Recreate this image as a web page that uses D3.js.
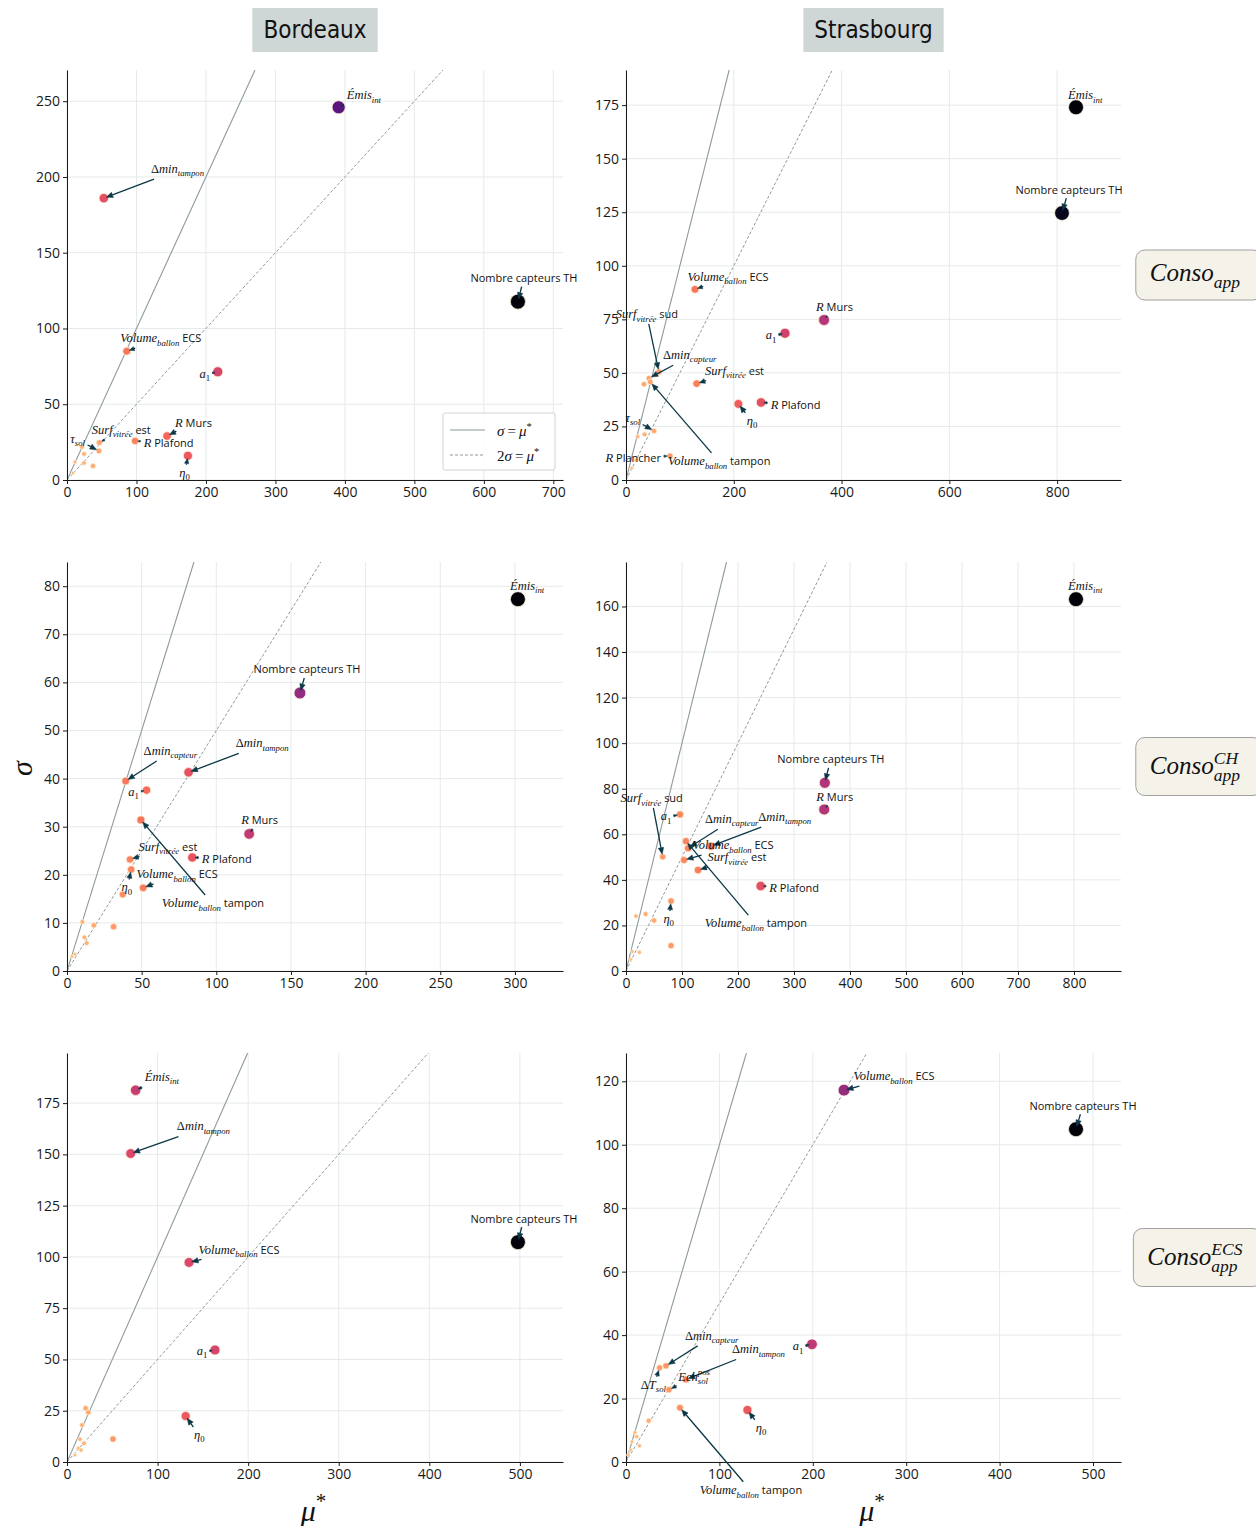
<!DOCTYPE html>
<html><head><meta charset="utf-8">
<script src="https://cdn.jsdelivr.net/npm/d3@7"></script>
<style>body{margin:0;background:#fff} text{white-space:pre}</style>
</head><body><svg id="c" width="1256" height="1526"></svg>
<script>
// ---------------- DATA ----------------
const cities = ["Bordeaux", "Strasbourg"];
const targets = ["$Conso_{app}$", "$Conso_{app}^{CH}$", "$Conso_{app}^{ECS}$"];

const LBL = {
  emis: "$Émis_{int}$", dtamp: "$\\Delta min_{tampon}$", dcapt: "$\\Delta min_{capteur}$",
  ncapt: "Nombre capteurs TH", vecs: "$Volume_{ballon}$ ECS", vtamp: "$Volume_{ballon}$ tampon",
  a1: "$a_1$", rmurs: "$R$ Murs", rplaf: "$R$ Plafond", rplanch: "$R$ Plancher",
  eta0: "$\\eta_0$", sest: "$Surf_{vitrée}$ est", ssud: "$Surf_{vitrée}$ sud",
  tau: "$\\tau_{sol}$", dT: "$\\Delta T_{sol}$", ech: "$Ech_{sol}^{pos}$"
};

// Bordeaux - Conso_app
const p1Names = ["emis","dtamp","ncapt","vecs","a1","rmurs","rplaf","eta0","sest","tau","","","","","",""];
const p1Mu    = [391, 53, 649, 86, 217, 144, 98, 174, 46.5, 46, 21.6, 24.5, 24.5, 37.4, 11.5, 8.6];
const p1Sigma = [246, 186, 117.7, 85, 71.4, 29, 25.8, 16, 24.7, 19.2, 21.8, 17.2, 11.2, 9.3, 11.9, 4.6];
const p1XTicks = [0,100,200,300,400,500,600,700];
const p1YTicks = [0,50,100,150,200,250];

// Strasbourg - Conso_app
const p2Names = ["emis","ncapt","vecs","rmurs","a1","ssud","dcapt","vtamp","sest","eta0","rplaf","tau","rplanch","","","","",""];
const p2Mu    = [835, 809, 128, 367.5, 295, 61, 42.7, 45, 131, 208.5, 250.6, 52, 81.7, 33.4, 34.6, 21.7, 18, 10.5];
const p2Sigma = [174, 124.6, 89, 74.7, 68.5, 50.5, 47.5, 45.8, 45, 35.5, 36.2, 22.9, 11.2, 44.7, 21.3, 20.2, 9.3, 5.5];
const p2XTicks = [0,200,400,600,800];
const p2YTicks = [0,25,50,75,100,125,150,175];

// Bordeaux - Conso_app^CH
const p3Names = ["emis","ncapt","dcapt","dtamp","a1","vtamp","rmurs","rplaf","sest","vecs","eta0","","","","","","","",""];
const p3Mu    = [302, 156, 39.3, 81.4, 53.3, 49.5, 122, 83.9, 42.2, 51, 43, 37.3, 31.2, 10.3, 18, 11.6, 13.2, 5.4, 3.3];
const p3Sigma = [77.3, 57.8, 39.5, 41.3, 37.6, 31.4, 28.5, 23.6, 23.2, 17.3, 21.1, 15.9, 9.2, 10.2, 9.5, 7, 5.8, 3.5, 3];
const p3XTicks = [0,50,100,150,200,250,300];
const p3YTicks = [0,10,20,30,40,50,60,70,80];

// Strasbourg - Conso_app^CH
const p4Names = ["emis","ncapt","rmurs","a1","ssud","vtamp","dcapt","dtamp","vecs","sest","rplaf","eta0","","","","","","",""];
const p4Mu    = [803.6, 355, 354, 96.4, 65.5, 107, 110.7, 151.8, 103.6, 128.6, 240.5, 80.4, 80.4, 17.9, 35, 50, 23.8, 11.3, 8.3];
const p4Sigma = [163.2, 82.6, 70.9, 68.7, 50.1, 57, 53.9, 54.8, 48.7, 44.3, 37.3, 30.7, 11.1, 24.1, 25, 22.2, 8.2, 8.5, 5.1];
const p4XTicks = [0,100,200,300,400,500,600,700,800];
const p4YTicks = [0,20,40,60,80,100,120,140,160];

// Bordeaux - Conso_app^ECS
const p5Names = ["emis","dtamp","vecs","ncapt","a1","eta0","","","","","","","","",""];
const p5Mu    = [75.8, 70.3, 134.7, 497.8, 163.4, 131, 20.6, 23.5, 16.6, 50.8, 14.3, 18.8, 12.5, 15.5, 8.8];
const p5Sigma = [181.3, 150.4, 97.3, 107.2, 54.6, 22.4, 26.2, 24.2, 18, 11.2, 11.1, 9.1, 6.7, 5.8, 3.4];
const p5XTicks = [0,100,200,300,400,500];
const p5YTicks = [0,25,50,75,100,125,150,175];

// Strasbourg - Conso_app^ECS
const p6Names = ["vecs","ncapt","a1","eta0","vtamp","dT","dcapt","dtamp","ech","","","","","","",""];
const p6Mu    = [233.4, 481.8, 199.1, 130, 57.8, 36, 42.8, 64, 46, 24.3, 9.6, 11.4, 14.3, 6.4, 5, 2.5];
const p6Sigma = [117.2, 104.9, 37.1, 16.4, 17.1, 29.7, 30.3, 26, 22.8, 13, 9.3, 8, 5.1, 6.4, 3.8, 2.2];
const p6XTicks = [0,100,200,300,400,500];
const p6YTicks = [0,20,40,60,80,100,120];

// label text offsets (pixels, text centre relative to point)
const p1Off = [[25,-11],[74,-28],[6,-24],[34,-12],[-13,3],[26,-14],[33,2],[-3,18],[22,-12],[-21,-11]];
const p2Off = [[9,-11],[7,-24],[33,-12],[10,-13],[-14,3],[-12,-57],[41,-22],[69,80],[38,-12],[14,18],[34,2],[-21,-12],[-37,1]];
const p3Off = [[9,-12],[7,-24],[45,-29],[74,-28],[-13,3],[72,84],[10,-14],[34,1],[38,-12],[34,-13],[-4,19]];
const p4Off = [[9,-12],[6,-24],[10,-13],[-14,3],[-11,-58],[70,83],[44,-28],[74,-28],[49,-14],[39,-12],[33,1],[-2,19]];
const p5Off = [[26,-12],[73,-26],[50,-12],[6,-24],[-13,2],[14,20]];
const p6Off = [[50,-13],[7,-24],[-14,3],[14,19],[71,83],[-6,18],[46,-29],[73,-29],[25,-13]];

// ---------------- LAYOUT ----------------
const COLX = [[67,563],[626,1121]];
const ROWY = [[70,480],[562,971],[1053,1462]];
const SERIF = "'Liberation Serif','Times New Roman',serif";
const SANS = "'Open Sans','Noto Sans',sans-serif";
const ARROW = "#0b3746";
const LINEC = "#8e9a9a";
const GRIDC = "#e7eaea";

const panels = [
  {c:0,r:0,n:p1Names,mu:p1Mu,s:p1Sigma,off:p1Off,xt:p1XTicks,yt:p1YTicks,legend:true},
  {c:1,r:0,n:p2Names,mu:p2Mu,s:p2Sigma,off:p2Off,xt:p2XTicks,yt:p2YTicks},
  {c:0,r:1,n:p3Names,mu:p3Mu,s:p3Sigma,off:p3Off,xt:p3XTicks,yt:p3YTicks},
  {c:1,r:1,n:p4Names,mu:p4Mu,s:p4Sigma,off:p4Off,xt:p4XTicks,yt:p4YTicks},
  {c:0,r:2,n:p5Names,mu:p5Mu,s:p5Sigma,off:p5Off,xt:p5XTicks,yt:p5YTicks},
  {c:1,r:2,n:p6Names,mu:p6Mu,s:p6Sigma,off:p6Off,xt:p6XTicks,yt:p6YTicks}
];

const svg = d3.select("#c");
svg.append("rect").attr("width",1256).attr("height",1526).attr("fill","#fff");

// ---------- rich (mathtext-like) text ----------
const CMDS = {Delta:["Δ",false], eta:["η",true], tau:["τ",true], sigma:["σ",true], mu:["μ",true]};
function tokenize(s){
  const out=[]; let i=0;
  while(i<s.length){
    const c=s[i];
    if(c===' '){i++;continue;}
    if(c==='_'||c==='^'){
      const level=c==='_'?'sub':'sup'; i++;
      let g;
      if(s[i]==='{'){const j=s.indexOf('}',i); g=s.slice(i+1,j); i=j+1;}
      else {g=s[i]; i++;}
      tokenize(g).forEach(tk=>out.push({t:tk.t,it:tk.it,level}));
      continue;
    }
    if(c==='\\'){let j=i+1; while(j<s.length&&/[A-Za-z]/.test(s[j]))j++; const m=CMDS[s.slice(i+1,j)]; out.push({t:m[0],it:m[1],level:'base'}); i=j; continue;}
    if(c==='='){out.push({t:'\u2009=\u2009',it:false,level:'base'}); i++; continue;}
    out.push({t:c,it:/[A-Za-zÀ-ÿ]/.test(c),level:'base'}); i++;
  }
  return out;
}
function rich(parent, str, o){
  const t=parent.append("text").attr("fill",o.color||"#111");
  let cur=0, prev=null;
  const put=(txt,fam,sz,it,shift,dx)=>{
    const ts=t.append("tspan").attr("font-family",fam).attr("font-size",sz)
      .attr("font-style",it?"italic":"normal").text(txt);
    if(shift!==cur){ts.attr("dy",shift-cur);cur=shift;}
    if(dx) ts.attr("dx",dx);
    return ts;
  };
  str.split("$").forEach((seg,k)=>{
    if(!seg) return;
    if(k%2===0){ put(seg,SANS,o.sans,false,0); prev=null; return; }
    const groups=[];
    tokenize(seg).forEach(tk=>{const g=groups[groups.length-1]; if(g&&g.it===tk.it&&g.level===tk.level) g.t+=tk.t; else groups.push({...tk});});
    groups.forEach(g=>{
      const m=o.math;
      const sz=g.level==='base'?m:m*0.7;
      const shift=g.level==='sub'?m*0.28:g.level==='sup'?-m*0.42:0;
      let dx=0;
      if(g.level==='sup'&&prev&&prev.level==='sub') dx=-prev.width;
      const node=put(g.t,SERIF,sz,g.it,shift,dx);
      let w=node.node().getComputedTextLength();
      if(g.level==='sub'&&prev&&prev.level==='sub') w+=prev.width;
      prev={level:g.level,width:w};
    });
  });
  return t;
}
function placeCentered(t, cx, cy){
  const b=t.node().getBBox();
  const tx=cx-(b.x+b.width/2), ty=cy-(b.y+b.height/2);
  t.attr("transform",`translate(${tx},${ty})`);
  return {x:b.x+tx,y:b.y+ty,w:b.width,h:b.height};
}
// arrow from the (tight) text box edge to near the point centre
function drawArrow(g, box, px, py, halfH){
  const cx=box.x+box.w/2, cy=box.y+box.h/2;
  const dx=px-cx, dy=py-cy, L=Math.hypot(dx,dy); if(L<1) return;
  const ux=dx/L, uy=dy/L;
  const hw=box.w/2+2, hh=halfH+2;
  const s=Math.min(ux?hw/Math.abs(ux):1e9, uy?hh/Math.abs(uy):1e9);
  const endD=L-2.7;
  if(endD-s<2) return;
  const sx=cx+ux*s, sy=cy+uy*s, ex=cx+ux*endD, ey=cy+uy*endD;
  const hl=Math.min(6.5,(endD-s)*0.8), hw2=hl*0.42;
  const bx=ex-ux*hl, by=ey-uy*hl;
  g.append("line").attr("x1",sx).attr("y1",sy).attr("x2",bx).attr("y2",by)
    .attr("stroke",ARROW).attr("stroke-width",1.3);
  g.append("path").attr("d",`M${ex},${ey}L${bx-uy*hw2},${by+ux*hw2}L${bx+uy*hw2},${by-ux*hw2}Z`)
    .attr("fill",ARROW).attr("stroke",ARROW).attr("stroke-width",0.5);
}

// ---------- panels ----------
panels.forEach((p,pi)=>{
  const [x0,x1]=COLX[p.c], [y0,y1]=ROWY[p.r];
  const x=d3.scaleLinear().domain([0,1.1*d3.max(p.mu)]).range([x0,x1]);
  const y=d3.scaleLinear().domain([0,1.1*d3.max(p.s)]).range([y1,y0]);
  const g=svg.append("g");
  const clipId="clip"+pi;
  g.append("clipPath").attr("id",clipId).append("rect").attr("x",x0).attr("y",y0).attr("width",x1-x0).attr("height",y1-y0);

  // grid
  g.append("g").selectAll("line").data(p.xt).join("line")
    .attr("x1",d=>x(d)).attr("x2",d=>x(d)).attr("y1",y0).attr("y2",y1).attr("stroke",GRIDC).attr("stroke-width",1);
  g.append("g").selectAll("line").data(p.yt).join("line")
    .attr("y1",d=>y(d)).attr("y2",d=>y(d)).attr("x1",x0).attr("x2",x1).attr("stroke",GRIDC).attr("stroke-width",1);

  // reference lines sigma = mu, 2 sigma = mu
  const ymax=y.domain()[1];
  const lg=g.append("g").attr("clip-path",`url(#${clipId})`);
  lg.append("line").attr("x1",x(0)).attr("y1",y(0)).attr("x2",x(ymax)).attr("y2",y(ymax))
    .attr("stroke",LINEC).attr("stroke-width",1.1);
  lg.append("line").attr("x1",x(0)).attr("y1",y(0)).attr("x2",x(2*ymax)).attr("y2",y(ymax))
    .attr("stroke",LINEC).attr("stroke-width",1).attr("stroke-dasharray","3,2");

  // axes
  const gx=g.append("g").attr("transform",`translate(0,${y1})`)
    .call(d3.axisBottom(x).tickValues(p.xt).tickSize(4).tickPadding(3).tickSizeOuter(0).tickFormat(d3.format("d")));
  const gy=g.append("g").attr("transform",`translate(${x0},0)`)
    .call(d3.axisLeft(y).tickValues(p.yt).tickSize(4).tickPadding(3).tickSizeOuter(0).tickFormat(d3.format("d")));
  [gx,gy].forEach(a=>{
    a.attr("color","#1a1a1a");
    a.selectAll("text").attr("font-family",SANS).attr("font-size",14).attr("fill","#1a1a1a");
  });

  // points: colour and size follow the distance sqrt(mu*^2 + sigma^2)
  const pts=p.mu.map((m,i)=>({name:p.n[i],mu:m,s:p.s[i],d:Math.hypot(m,p.s[i]),i}));
  const dmax=d3.max(pts,d=>d.d);
  pts.forEach(d=>{
    const u=d.d/dmax;
    d.t=Math.pow(u,0.75);
    d.r=Math.max(1.8,7.5*Math.sqrt(d.t));
    d.col=d3.interpolateMagma(0.02+0.85*(1-u));
  });
  const sorted=pts.slice().sort((a,b)=>a.d-b.d);
  g.append("g").selectAll("circle").data(sorted).join("circle")
    .attr("cx",d=>x(d.mu)).attr("cy",d=>y(d.s)).attr("r",d=>d.r)
    .attr("fill",d=>d.col).attr("stroke","#fbf0d6").attr("stroke-width",0.8);

  // annotations
  const ag=g.append("g");
  pts.forEach(d=>{
    if(!d.name) return;
    const o=p.off[d.i]; const px=x(d.mu), py=y(d.s);
    const t=rich(ag,LBL[d.name],{sans:11,math:12.5});
    const box=placeCentered(t,px+o[0],py+o[1]);
    drawArrow(ag,box,px,py,Math.min(box.h/2,7));
  });

  // legend
  if(p.legend){
    const lw=112, lh=57, lx=x1-8-lw, ly=y1-10-lh;
    const L=g.append("g");
    L.append("rect").attr("x",lx).attr("y",ly).attr("width",lw).attr("height",lh)
      .attr("fill","#fff").attr("fill-opacity",0.85).attr("stroke","#d0d4d4").attr("rx",2);
    L.append("line").attr("x1",lx+7).attr("x2",lx+42).attr("y1",ly+17).attr("y2",ly+17).attr("stroke",LINEC).attr("stroke-width",1.1);
    L.append("line").attr("x1",lx+7).attr("x2",lx+42).attr("y1",ly+42).attr("y2",ly+42).attr("stroke",LINEC).attr("stroke-dasharray","3,2");
    const t1=rich(L,"$\\sigma = \\mu^*$",{sans:14,math:15});
    const b1=t1.node().getBBox(); t1.attr("transform",`translate(${lx+54-b1.x},${ly+17-(b1.y+b1.height/2)})`);
    const t2=rich(L,"$2\\sigma = \\mu^*$",{sans:14,math:15});
    const b2=t2.node().getBBox(); t2.attr("transform",`translate(${lx+54-b2.x},${ly+42-(b2.y+b2.height/2)})`);
  }
});

// ---------- headers ----------
cities.forEach((c,i)=>{
  const cx=(COLX[i][0]+COLX[i][1])/2;
  const g=svg.append("g");
  const t=g.append("text").attr("font-family","'DejaVu Sans Condensed','DejaVu Sans',sans-serif")
    .attr("font-stretch","condensed").attr("font-size",24).attr("fill","#111").attr("text-anchor","middle")
    .attr("x",cx).attr("y",38).text(c);
  const b=t.node().getBBox();
  g.insert("rect","text").attr("x",cx-b.width/2-11).attr("y",8).attr("width",b.width+22).attr("height",44).attr("fill","#cfd6d6");
});

// ---------- row labels ----------
targets.forEach((s,i)=>{
  const cy=(ROWY[i][0]+ROWY[i][1])/2;
  const g=svg.append("g");
  const t=rich(g,s,{sans:24,math:25});
  const box=placeCentered(t,1195,cy);
  const bh=i===0?50:58;
  const bx=box.x-14;
  g.insert("rect","text").attr("x",bx).attr("y",cy-bh/2).attr("width",1262-bx).attr("height",bh)
    .attr("rx",9).attr("fill","#f5f2ea").attr("stroke","#a0a0a0").attr("stroke-width",1);
});

// ---------- axis titles ----------
{
  const g=svg.append("g");
  const t=rich(g,"$\\sigma$",{sans:28,math:30});
  placeCentered(t,0,0);
  g.attr("transform","translate(21,768) rotate(-90)");
}
COLX.forEach(cx=>{
  const g=svg.append("g");
  const t=rich(g,"$\\mu^*$",{sans:28,math:30});
  placeCentered(t,(cx[0]+cx[1])/2-2,1508);
});
</script></body></html>
